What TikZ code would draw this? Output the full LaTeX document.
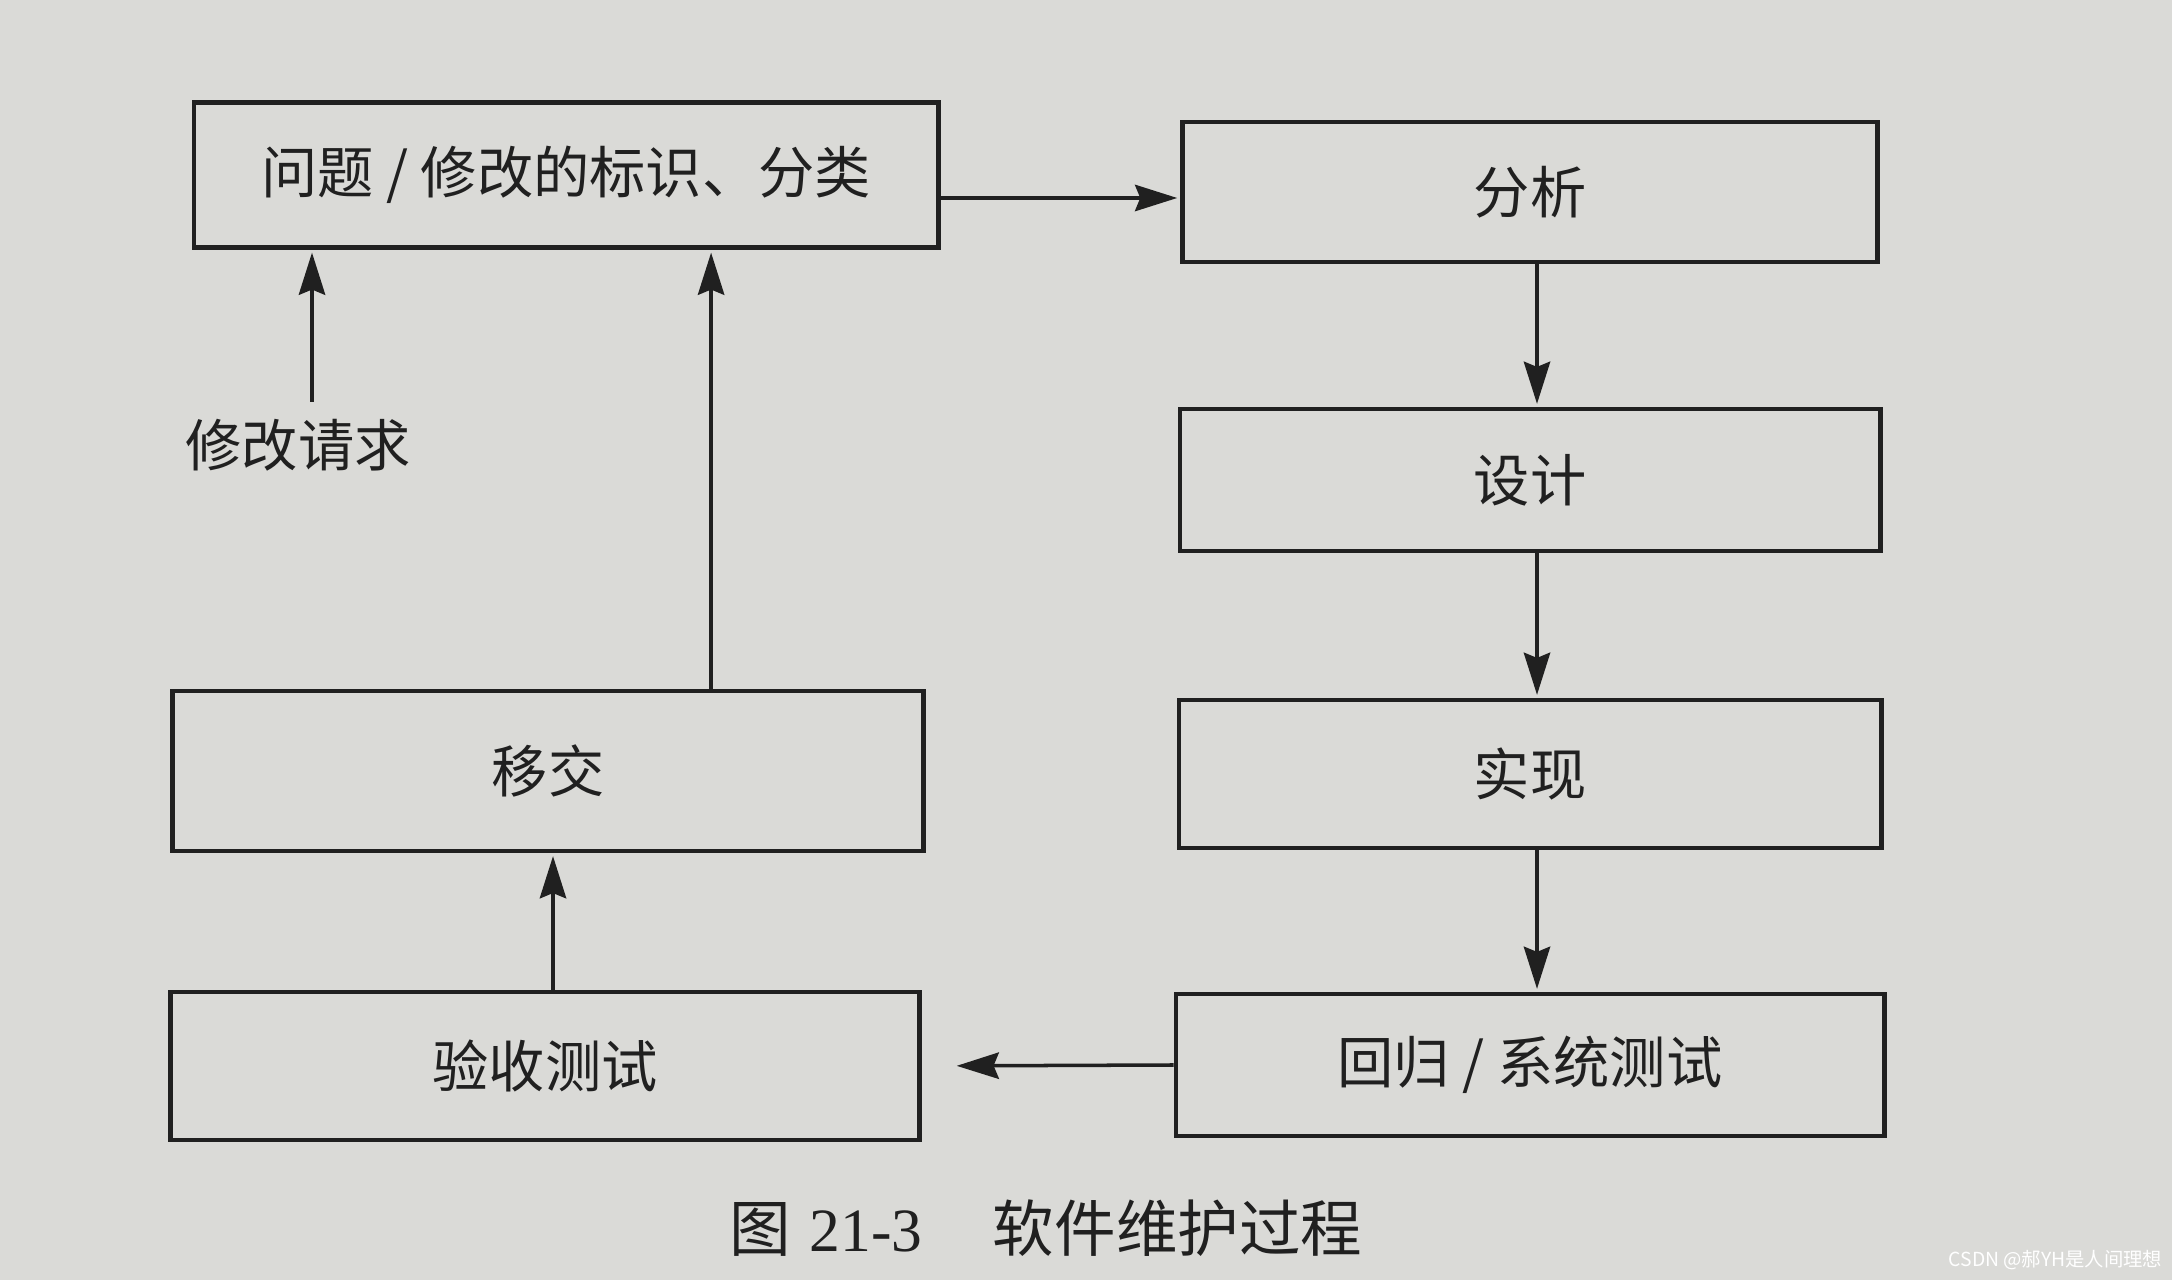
\documentclass[tikz,border=0pt]{standalone}
\usepackage{fontspec}
\setmainfont{Noto Sans CJK SC}
\newfontfamily\numfont{Liberation Serif}
\usetikzlibrary{arrows.meta}
\definecolor{paper}{RGB}{218,218,215}
\definecolor{ink}{RGB}{32,32,32}
\begin{document}
\begin{tikzpicture}[x=0.01cm,y=-0.01cm,
  box/.style={draw=ink, line width=1.3pt, fill=paper, inner sep=0pt,
    font=\fontsize{16pt}{19pt}\selectfont, text=ink},
  arr/.style={draw=ink, line width=1pt, -{Stealth[length=12pt,width=7.5pt,inset=1.5pt]}, shorten >=0.8pt},
  lbl/.style={font=\fontsize{16pt}{19pt}\selectfont, text=ink, inner sep=0pt}]
\fill[paper] (0,0) rectangle (2172,1280);
\useasboundingbox (0,0) rectangle (2172,1280);

\node[box, minimum width=7.44cm, minimum height=1.45cm] (box1) at (566,175) {问题 / 修改的标识、分类};
\node[box, minimum width=6.95cm, minimum height=1.40cm] (fenxi) at (1530,192) {分析};
\node[box, minimum width=7.00cm, minimum height=1.42cm] (sheji) at (1530,480) {设计};
\node[box, minimum width=7.02cm, minimum height=1.48cm] (shixian) at (1530,774) {实现};
\node[box, minimum width=7.08cm, minimum height=1.42cm] (huigui) at (1530,1065) {回归 / 系统测试};
\node[box, minimum width=7.48cm, minimum height=1.48cm] (yanshou) at (545,1066) {验收测试};
\node[box, minimum width=7.50cm, minimum height=1.60cm] (yijiao) at (548,771) {移交};

\node[lbl] (req) at (298,445) {修改请求};
\coordinate (reqtop) at (312,402);

\draw[arr] (reqtop) -- (reqtop |- box1.south);
\draw[arr] ([xshift=1.63cm]yijiao.north) -- ([xshift=1.63cm]yijiao.north |- box1.south);
\draw[arr] ([xshift=0.08cm]yanshou.north) -- ([xshift=0.08cm]yanshou.north |- yijiao.south);
\draw[arr] ([yshift=-0.06cm]box1.east |- fenxi.west) -- ([yshift=-0.06cm]fenxi.west);
\draw[arr] ([xshift=0.07cm]fenxi.south) -- ([xshift=0.07cm]sheji.north);
\draw[arr] ([xshift=0.07cm]sheji.south) -- ([xshift=0.07cm]shixian.north);
\draw[arr] ([xshift=0.07cm]shixian.south) -- ([xshift=0.07cm]huigui.north);
\draw[arr, shorten >=10pt] (huigui.west) -- (yanshou.east);

\node[inner sep=0pt, text=ink, font=\fontsize{17.5pt}{21pt}\selectfont] (cap) at (1046,1228)
  {图\hspace{0.3em}{\numfont 21-3}\hspace{20pt}软件维护过程};
\node[inner sep=0pt, text=white, anchor=east, font=\fontsize{5.5pt}{7pt}\selectfont] (wm) at (2163,1260)
  {CSDN @郝YH是人间理想};
\end{tikzpicture}
\end{document}
